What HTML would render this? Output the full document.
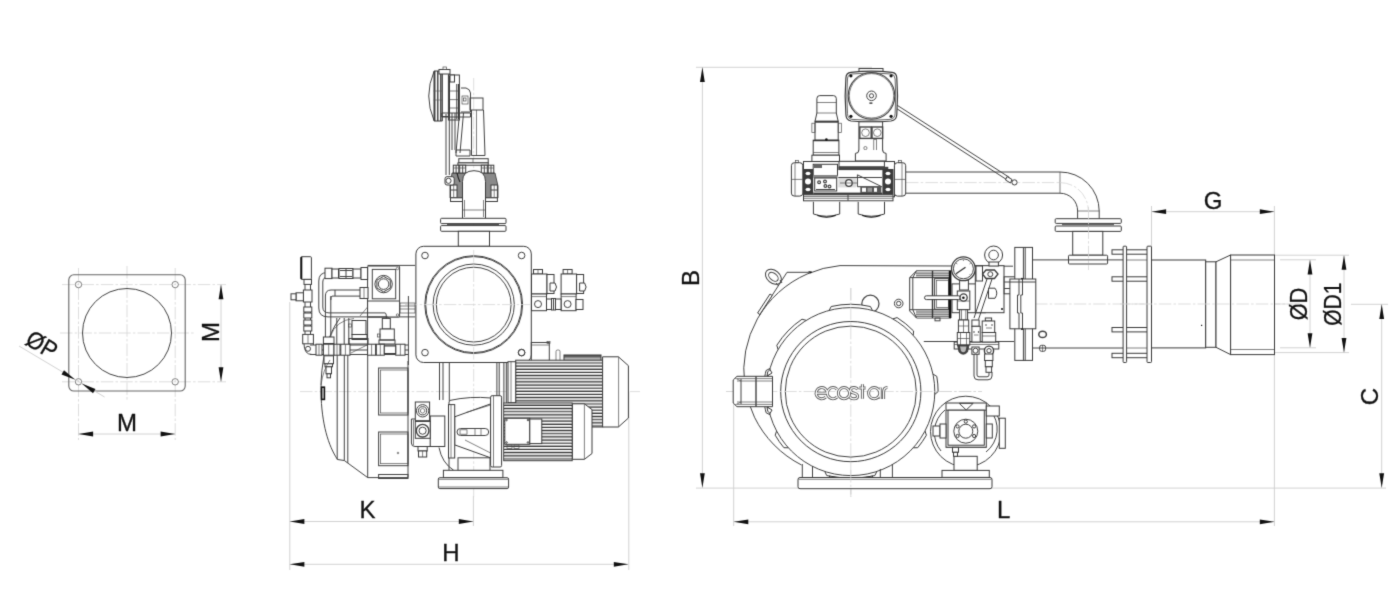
<!DOCTYPE html>
<html><head><meta charset="utf-8">
<style>
html,body{margin:0;padding:0;background:#fff;width:1400px;height:598px;overflow:hidden}
svg{display:block}
#wrap{filter:grayscale(1);width:1400px;height:598px}
.o{fill:none;stroke:#424242;stroke-width:1}
.t{fill:none;stroke:#4a4a4a;stroke-width:0.7}
.f{fill:#fff;stroke:#3a3a3a;stroke-width:1}
.ft{fill:#fff;stroke:#4a4a4a;stroke-width:0.7}
.fin{fill:none;stroke:#3a3a3a;stroke-width:1.15}
.c{fill:none;stroke:#d4d4d4;stroke-width:0.8;stroke-dasharray:12.5 2.2 2.5 2.2}
.d{fill:none;stroke:#d2d2d2;stroke-width:1}
.a{fill:#111;stroke:none}
text{font-family:"Liberation Sans",sans-serif;fill:#111}
.lbl{font-size:24px;stroke:#111;stroke-width:0.3}
</style></head>
<body><div id="wrap">
<svg width="1400" height="598" viewBox="0 0 1400 598">
<defs>
<filter id="soft" x="0" y="0" width="1400" height="598" filterUnits="userSpaceOnUse" color-interpolation-filters="sRGB"><feConvolveMatrix order="3" kernelMatrix="1 6 1 6 36 6 1 6 1" divisor="64" edgeMode="duplicate"/></filter>
<path id="ar" d="M0,0 L14.6,-2.4 L14.6,2.4 Z" class="a"/>
</defs>
<g filter="url(#soft)">
<rect x="0" y="0" width="1400" height="598" fill="#fff"/>
<!-- ============ LEFT FLANGE ============ -->
<g id="flange">
<line class="c" x1="127" y1="266" x2="127" y2="400"/>
<line class="c" x1="60" y1="333" x2="195" y2="333"/>
<line class="c" x1="78.5" y1="268" x2="78.5" y2="440"/>
<line class="c" x1="175.2" y1="268" x2="175.2" y2="440"/>
<line class="c" x1="62" y1="284.6" x2="226" y2="284.6"/>
<line class="c" x1="62" y1="381.8" x2="226" y2="381.8"/>
<rect x="68.8" y="274.8" width="116.4" height="116.2" rx="5" fill="none" stroke="#666" stroke-width="1.1"/>
<circle class="o" cx="127" cy="333" r="44.5"/>
<circle class="t" cx="78.5" cy="284.6" r="3.2"/>
<circle class="t" cx="175.2" cy="284.6" r="3.2"/>
<circle class="t" cx="78.5" cy="381.8" r="3.2"/>
<circle class="t" cx="175.2" cy="381.8" r="3.2"/>
<!-- M vertical dim -->
<line class="d" x1="221" y1="284.6" x2="221" y2="381.8"/>
<use href="#ar" transform="translate(221,284.6) rotate(90)"/>
<use href="#ar" transform="translate(221,381.8) rotate(-90)"/>
<text class="lbl" transform="translate(219,332) rotate(-90)" text-anchor="middle">M</text>
<!-- M horizontal dim -->
<line class="d" x1="78.5" y1="434" x2="175.2" y2="434"/>
<use href="#ar" transform="translate(78.5,434)"/>
<use href="#ar" transform="translate(175.2,434) rotate(180)"/>
<text class="lbl" transform="translate(127,431)" text-anchor="middle">M</text>
<!-- ØP -->
<line class="d" x1="19" y1="346" x2="104.6" y2="397"/>
<use href="#ar" transform="translate(75.3,379.8) rotate(210.8)"/>
<use href="#ar" transform="translate(81.7,383.6) rotate(30.8)"/>
<text class="lbl" transform="translate(24,343.5) rotate(30.8) scale(0.92,1)" text-anchor="start">ØP</text>
</g>

<!-- ============ MIDDLE DIMS ============ -->
<g id="middims">
<line class="d" x1="289.8" y1="302" x2="289.8" y2="570"/>
<line class="d" x1="628.8" y1="392" x2="628.8" y2="570"/>
<line class="d" x1="473.4" y1="496" x2="473.4" y2="526"/>
<line class="d" x1="289.8" y1="521.5" x2="473.4" y2="521.5"/>
<use href="#ar" transform="translate(289.8,521.5)"/>
<use href="#ar" transform="translate(473.4,521.5) rotate(180)"/>
<text class="lbl" transform="translate(367.4,518)" text-anchor="middle">K</text>
<line class="d" x1="289.8" y1="564.3" x2="628.4" y2="564.3"/>
<use href="#ar" transform="translate(289.8,564.3)"/>
<use href="#ar" transform="translate(628.4,564.3) rotate(180)"/>
<text class="lbl" transform="translate(451,561)" text-anchor="middle">H</text>
</g>

<!-- ============ RIGHT DIMS ============ -->
<g id="rightdims">
<line class="d" x1="702.4" y1="67.3" x2="702.4" y2="488"/>
<line class="d" x1="696" y1="67.3" x2="872" y2="67.3"/>
<use href="#ar" transform="translate(702.4,67.3) rotate(90)"/>
<use href="#ar" transform="translate(702.4,487.8) rotate(-90)"/>
<text class="lbl" transform="translate(698.7,278) rotate(-90)" text-anchor="middle">B</text>
<line class="d" x1="696" y1="488.1" x2="1386" y2="488.1"/>
<line class="d" x1="733.7" y1="380" x2="733.7" y2="526"/>
<line class="d" x1="1274.4" y1="355" x2="1274.4" y2="526"/>
<line class="d" x1="733.7" y1="521.8" x2="1274.4" y2="521.8"/>
<use href="#ar" transform="translate(733.7,521.8)"/>
<use href="#ar" transform="translate(1274.4,521.8) rotate(180)"/>
<text class="lbl" transform="translate(1003.7,518.4)" text-anchor="middle">L</text>
<!-- G -->
<line class="d" x1="1151.5" y1="206" x2="1151.5" y2="246"/>
<line class="d" x1="1274.4" y1="206" x2="1274.4" y2="255"/>
<line class="d" x1="1151.5" y1="211.7" x2="1274.4" y2="211.7"/>
<use href="#ar" transform="translate(1151.5,211.7)"/>
<use href="#ar" transform="translate(1274.4,211.7) rotate(180)"/>
<text class="lbl" transform="translate(1213,208.8)" text-anchor="middle">G</text>
<!-- ØD ØD1 -->
<line class="d" x1="1274.4" y1="255.2" x2="1349" y2="255.2"/>
<line class="d" x1="1274.4" y1="352.6" x2="1349" y2="352.6"/>
<line class="d" x1="1280" y1="259.8" x2="1316" y2="259.8"/>
<line class="d" x1="1280" y1="347.8" x2="1316" y2="347.8"/>
<line class="d" x1="1310" y1="259.8" x2="1310" y2="347.8"/>
<use href="#ar" transform="translate(1310,259.8) rotate(90)"/>
<use href="#ar" transform="translate(1310,347.8) rotate(-90)"/>
<text class="lbl" transform="translate(1306.9,304) rotate(-90) scale(0.91,1)" text-anchor="middle">ØD</text>
<line class="d" x1="1344" y1="255.2" x2="1344" y2="352.6"/>
<use href="#ar" transform="translate(1344,255.2) rotate(90)"/>
<use href="#ar" transform="translate(1344,352.6) rotate(-90)"/>
<text class="lbl" transform="translate(1340.6,304.2) rotate(-90) scale(0.875,1)" text-anchor="middle">ØD1</text>
<!-- C -->
<line class="d" x1="1351" y1="304.3" x2="1388" y2="304.3"/>
<line class="d" x1="1381.7" y1="304.3" x2="1381.7" y2="488"/>
<use href="#ar" transform="translate(1381.7,304.3) rotate(90)"/>
<use href="#ar" transform="translate(1381.7,487.8) rotate(-90)"/>
<text class="lbl" transform="translate(1377.6,396.5) rotate(-90)" text-anchor="middle">C</text>
</g>
<g id="mid">
<line class="c" x1="473.7" y1="78" x2="473.7" y2="497"/>
<line class="c" x1="300" y1="391.6" x2="640" y2="391.6"/>
<line class="c" x1="405" y1="304.6" x2="545" y2="304.6"/>
<path class="o" d="M434,71.5 Q423.5,96 434,120.5"/>
<path d="M434,71 L442.3,71 L442.3,121 L434,121 Z" fill="#fff" stroke="#333" stroke-width="1"/>
<path d="M434.8,71 L434.8,121 M437.8,71 L437.8,121 M440.8,71 L440.8,121" stroke="#333" stroke-width="1.3"/>
<path d="M433.5,91 L442.3,91 M433.5,100 L442.3,100" stroke="#555" stroke-width="0.6"/>
<rect class="f" x="442.3" y="69.5" width="6.7" height="47"/>
<rect class="f" x="439" y="69.5" width="11" height="4.5"/>
<rect class="t" x="443" y="67" width="3.5" height="2.5"/>
<rect class="f" x="448.4" y="75" width="11" height="45"/>
<path d="M449.5,76 L449.5,119 M456.8,84 L456.8,119 M458.5,84 L458.5,119" stroke="#333" stroke-width="1"/>
<path d="M448.4,91 L459.4,91 M448.4,99.6 L459.4,99.6 M448.4,108 L459.4,108" stroke="#444" stroke-width="0.7"/>
<rect class="f" x="450" y="75" width="4.5" height="7"/>
<path class="o" d="M461,88 L466,88 Q470,89 470.5,93 L470.5,112 L461,112"/>
<rect class="t" x="462" y="96" width="6" height="8"/><rect class="t" x="463.5" y="98" width="2.5" height="3"/>
<rect class="o" x="470" y="98" width="13" height="12"/>
<path class="o" d="M471.5,110 L471.5,155.5 L485,155.5 L483.5,110"/>
<line class="t" x1="476.5" y1="110" x2="476.5" y2="155"/>
<path class="o" d="M446,114 L446,175 M449.3,114 L449.3,175"/>
<path class="o" d="M452,113 L452,150 M455,113 L455,150"/>
<path class="o" d="M459.5,113 L456,153 M463.5,113 L460,153"/>
<path class="o" d="M441.8,113 L470.5,113 L470.5,117 L441.8,117 Z"/>
<path class="o" d="M456,150 L470,150 L470,156 L456,156 Z"/>
<rect class="f" x="458.8" y="158.7" width="29.4" height="4.2"/>
<line class="t" x1="473" y1="158.7" x2="473" y2="162.9"/>
<rect class="f" x="457.9" y="162.9" width="30.3" height="2.3"/>
<path d="M452,173 L495,173 L498,186 L498,198 L450,198 L450,186 Z" fill="#8a8a8a" stroke="#333" stroke-width="0.8"/>
<rect class="f" x="453.3" y="165.2" width="5.5" height="7.8"/>
<line class="o" x1="456.1" y1="165.2" x2="456.1" y2="173"/>
<line class="t" x1="453.3" y1="168" x2="458.8" y2="168"/>
<rect class="f" x="459.7" y="165.2" width="6.0" height="7.8"/>
<line class="o" x1="462.7" y1="165.2" x2="462.7" y2="173"/>
<line class="t" x1="459.7" y1="168" x2="465.7" y2="168"/>
<rect class="f" x="481.3" y="165.2" width="6.0" height="7.8"/>
<line class="o" x1="484.3" y1="165.2" x2="484.3" y2="173"/>
<line class="t" x1="481.3" y1="168" x2="487.3" y2="168"/>
<rect class="f" x="488.2" y="165.2" width="5.6" height="7.8"/>
<line class="o" x1="491.0" y1="165.2" x2="491.0" y2="173"/>
<line class="t" x1="488.2" y1="168" x2="493.8" y2="168"/>
<path d="M457,173 Q458,178 460,182" fill="none" stroke="#222" stroke-width="1.2"/>
<rect class="f" x="450.5" y="185" width="6.5" height="12.8"/><line class="o" x1="450.5" y1="190" x2="457" y2="190"/><line class="t" x1="453.7" y1="185" x2="453.7" y2="197.8"/>
<rect class="f" x="491" y="185" width="6.4" height="12.8"/><line class="o" x1="491" y1="190" x2="497.4" y2="190"/><line class="t" x1="494.2" y1="185" x2="494.2" y2="197.8"/>
<rect class="f" x="450.5" y="197.8" width="46.9" height="3.7"/>
<rect class="f" x="445" y="176.7" width="9.2" height="8.3" rx="2"/><circle class="o" cx="448.5" cy="180.8" r="2.6"/>
<path class="f" d="M462.5,218 L462.5,181.5 Q462.5,170.7 474,170.7 Q485.5,170.7 485.5,181.5 L485.5,218"/>
<line class="t" x1="464.5" y1="200" x2="464.5" y2="217"/><line class="t" x1="483.5" y1="200" x2="483.5" y2="217"/>
<line class="t" x1="462.5" y1="210" x2="485.5" y2="210"/>
<rect class="f" x="440.6" y="218.3" width="65.4" height="5.3" rx="1"/>
<rect class="f" x="440.6" y="225.6" width="65.4" height="5.7" rx="1"/>
<line class="o" x1="447" y1="224.6" x2="499" y2="224.6"/>
<rect class="f" x="458.3" y="231.3" width="31.2" height="15"/>
<rect class="f" x="415.9" y="246.3" width="115.4" height="116.2" rx="7.6"/>
<circle class="o" cx="425" cy="255.5" r="3.3"/>
<circle class="o" cx="521.6" cy="255.5" r="3.3"/>
<circle class="o" cx="425" cy="352.6" r="3.3"/>
<circle class="o" cx="521.6" cy="352.6" r="3.3"/>
<circle class="o" cx="473.7" cy="304.6" r="48.9"/>
<circle class="o" cx="473.7" cy="304.6" r="48"/>
<circle class="o" cx="473.7" cy="304.6" r="40.6"/>
<circle class="o" cx="473.7" cy="304.6" r="37.4"/>
<line class="c" x1="473.7" y1="250" x2="473.7" y2="360"/>
<line class="c" x1="405" y1="304.6" x2="545" y2="304.6"/>
<path class="o" d="M340,318 C327,335 320.5,362 321,392 C321.5,424 328.5,446 337.5,459.5 L344.3,460.5 L367.7,477.6 L408,477.6"/>
<path class="o" d="M337.2,350 L337.2,459.5 M344.3,350 L344.3,460.5 M347.8,350 L347.8,463 M367.7,350 L367.7,477.6"/>
<path class="o" d="M408,477.6 L408,361"/>
<rect class="o" x="378.6" y="368" width="29.4" height="47"/>
<rect class="t" x="380.5" y="370" width="27.5" height="43"/>
<rect class="o" x="378.6" y="432" width="29.4" height="33.7"/>
<rect class="t" x="380.5" y="434" width="27.5" height="29.7"/>
<rect class="o" x="378.6" y="474.5" width="29.4" height="4"/>
<rect class="a" x="320.8" y="386.4" width="4.4" height="13.8"/><rect x="322" y="388" width="2" height="10.6" fill="#999"/>
<circle class="t" cx="398" cy="453" r="0.8"/>
<path class="o" d="M325.4,296 L325.4,350 M330.8,296 L330.8,350 M336.8,318 L336.8,352 M344.2,318 L344.2,352 M348.8,318 L348.8,352 M367.6,296 L367.6,352 M408.4,296 L408.4,365"/>
<line class="o" x1="318" y1="350" x2="409" y2="350"/>
<path class="o" d="M367.6,265.4 L415,265.4 M367.6,316.9 L415,316.9"/>
<rect class="t" x="400" y="303" width="15" height="10"/>
<line class="t" x1="400" y1="306" x2="415" y2="306"/><line class="t" x1="400" y1="309" x2="415" y2="309"/>
<rect class="f" x="367.6" y="266" width="32" height="51" rx="1"/>
<rect class="o" x="372.3" y="269.4" width="23.4" height="29.4"/>
<circle class="o" cx="383.6" cy="284.1" r="8.7"/>
<polygon class="o" points="383.6,276.4 390.3,280.2 390.3,288 383.6,291.8 376.9,288 376.9,280.2"/>
<circle class="o" cx="383.6" cy="284.1" r="5.3"/>
<circle class="t" cx="397.5" cy="268.5" r="1.2"/><circle class="t" cx="397.5" cy="315" r="1.2"/>
<line class="o" x1="367.6" y1="301" x2="399.6" y2="301"/>
<path class="o" d="M364,272.6 L327,272.6 Q318.8,272.6 318.8,281 L318.8,308 Q318.8,316.9 328,316.9 L386,316.9 Q389.6,316.9 389.6,321 L389.6,330"/>
<path class="o" d="M364,277 L328,277 Q322.8,277 322.8,282 L322.8,307 Q322.8,312.9 329,312.9 L385,312.9 Q386.3,312.9 386.3,316 L386.3,330"/>
<rect class="f" x="325" y="268.2" width="7" height="10.4"/>
<rect class="f" x="332" y="269" width="6.5" height="9"/>
<rect class="f" x="339" y="268.5" width="14" height="10"/>
<rect class="f" x="353" y="269" width="8" height="9"/>
<rect class="f" x="361" y="267.5" width="6.6" height="12"/>
<line class="o" x1="346" y1="268.5" x2="346" y2="278.5"/><line class="o" x1="340" y1="270.5" x2="352" y2="270.5"/><line class="o" x1="340" y1="276.5" x2="352" y2="276.5"/>
<path class="o" d="M360,290 L331,290 Q325.4,290 325.4,296 M360,296.1 L332,296.1 Q330.8,296.1 330.8,300"/>
<rect class="f" x="360" y="287.5" width="8" height="11"/><line class="t" x1="364" y1="287.5" x2="364" y2="298.5"/>
<line class="o" x1="335" y1="290" x2="335" y2="296"/>
<path class="t" d="M367.6,307 L360,316"/>
<rect class="f" x="300.7" y="256.7" width="10.7" height="22.7" rx="1"/>
<rect class="a" x="300.7" y="257" width="1.6" height="22"/>
<rect class="f" x="304" y="279.4" width="7.5" height="5"/>
<rect class="f" x="303.4" y="290" width="8.6" height="12"/>
<rect class="f" x="296" y="292.8" width="7.4" height="8"/><rect class="f" x="291" y="293.8" width="5" height="6"/>
<line class="o" x1="305" y1="284.4" x2="305" y2="290"/><line class="o" x1="310.5" y1="284.4" x2="310.5" y2="290"/>
<line class="o" x1="305" y1="302" x2="305" y2="334"/><line class="o" x1="310.5" y1="302" x2="310.5" y2="334"/>
<rect class="f" x="303.8" y="307" width="8" height="5"/>
<rect class="f" x="303.8" y="313" width="8" height="5"/>
<rect class="f" x="303.8" y="320" width="8" height="5"/>
<rect class="f" x="303.8" y="326" width="8" height="5"/>
<rect class="f" x="302.7" y="334.4" width="10.7" height="9.4"/><line class="t" x1="308" y1="334.4" x2="308" y2="343.8"/>
<path class="o" d="M304,343.8 Q304,354.5 312,354.5 M313.4,343.8 L313.4,345"/>
<circle class="o" cx="308" cy="348.8" r="2.5"/>
<line class="o" x1="310" y1="345" x2="408" y2="345"/><line class="o" x1="310" y1="354.5" x2="408" y2="354.5"/>
<rect class="f" x="316" y="344.2" width="6" height="11"/>
<line class="t" x1="319.0" y1="344.2" x2="319.0" y2="355.2"/>
<rect class="f" x="323.4" y="344.2" width="10.600000000000023" height="11"/>
<line class="t" x1="328.7" y1="344.2" x2="328.7" y2="355.2"/>
<rect class="f" x="334" y="344.2" width="6" height="11"/>
<line class="t" x1="337.0" y1="344.2" x2="337.0" y2="355.2"/>
<rect class="f" x="340.8" y="344.2" width="9.199999999999989" height="11"/>
<line class="t" x1="345.4" y1="344.2" x2="345.4" y2="355.2"/>
<rect class="f" x="367.6" y="344.2" width="8.0" height="11"/>
<line class="t" x1="371.6" y1="344.2" x2="371.6" y2="355.2"/>
<rect class="f" x="376.3" y="344.2" width="8.0" height="11"/>
<line class="t" x1="380.3" y1="344.2" x2="380.3" y2="355.2"/>
<rect class="f" x="395.7" y="344.2" width="9.300000000000011" height="11"/>
<line class="t" x1="400.35" y1="344.2" x2="400.35" y2="355.2"/>
<rect class="f" x="384.3" y="346" width="11.4" height="7.5"/>
<path class="t" d="M351,353 L367,345"/>
<rect class="f" x="323.4" y="337" width="10.6" height="6.5"/>
<rect class="f" x="324" y="355.8" width="9.5" height="8"/>
<rect class="f" x="325" y="363.8" width="7.5" height="3"/>
<rect class="f" x="326" y="366.8" width="5.5" height="7"/>
<rect class="f" x="327" y="373.8" width="3.5" height="4"/>
<rect class="f" x="352" y="320.5" width="14" height="14"/>
<rect class="f" x="352" y="334.5" width="15" height="5"/>
<rect class="o" x="349" y="338.5" width="19" height="5.5"/>
<rect class="t" x="348.5" y="324" width="3" height="3"/>
<rect class="f" x="382.3" y="318.4" width="8" height="10.6"/>
<rect class="f" x="380" y="329" width="14.3" height="11"/>
<rect class="o" x="379" y="340" width="16" height="4"/>
<rect class="t" x="377.5" y="334" width="2.5" height="3"/>
<path class="t" d="M330,337 Q336,320 354,318.5"/>
<path class="t" d="M321,385 Q323,370 330,360"/>
<path class="o" d="M439.5,362.5 L439.5,400 M443,362.5 L443,400 M449.3,362.5 L449.3,402 M496.9,362.5 L496.9,396 M499.2,362.5 L499.2,396 M503.9,362.5 L503.9,403 M506.3,362.5 L506.3,403"/>
<rect class="o" x="531.3" y="342.5" width="18" height="19.2"/>
<line class="t" x1="531.3" y1="345" x2="549.3" y2="345"/>
<rect class="t" x="547" y="341.5" width="3" height="2"/>
<rect class="t" x="556" y="350" width="4" height="11.7" rx="1.5"/>
<circle class="o" cx="521.6" cy="352.6" r="3.3"/>
<rect x="564" y="355" width="37" height="6.7" fill="#8a8a8a" stroke="#333" stroke-width="1"/><line x1="564.5" y1="356" x2="600.5" y2="356" stroke="#333" stroke-width="1.2"/><line x1="564.5" y1="359" x2="600.5" y2="359" stroke="#eee" stroke-width="0.8"/>
<rect class="f" x="515.7" y="360.2" width="87" height="66.8"/>
<rect x="516" y="361.60" width="86.5" height="0.8" fill="#c4c4c4"/>
<line class="fin" x1="516" y1="363.00" x2="602.5" y2="363.00"/>
<rect x="516" y="364.75" width="86.5" height="0.8" fill="#c4c4c4"/>
<line class="fin" x1="516" y1="366.15" x2="602.5" y2="366.15"/>
<rect x="516" y="367.90" width="86.5" height="0.8" fill="#c4c4c4"/>
<line class="fin" x1="516" y1="369.30" x2="602.5" y2="369.30"/>
<rect x="516" y="371.05" width="86.5" height="0.8" fill="#c4c4c4"/>
<line class="fin" x1="516" y1="372.45" x2="602.5" y2="372.45"/>
<rect x="516" y="374.20" width="86.5" height="0.8" fill="#c4c4c4"/>
<line class="fin" x1="516" y1="375.60" x2="602.5" y2="375.60"/>
<rect x="516" y="377.35" width="86.5" height="0.8" fill="#c4c4c4"/>
<line class="fin" x1="516" y1="378.75" x2="602.5" y2="378.75"/>
<rect x="516" y="380.50" width="86.5" height="0.8" fill="#c4c4c4"/>
<line class="fin" x1="516" y1="381.90" x2="602.5" y2="381.90"/>
<rect x="516" y="383.65" width="86.5" height="0.8" fill="#c4c4c4"/>
<line class="fin" x1="516" y1="385.05" x2="602.5" y2="385.05"/>
<rect x="516" y="386.80" width="86.5" height="0.8" fill="#c4c4c4"/>
<line class="fin" x1="516" y1="388.20" x2="602.5" y2="388.20"/>
<rect x="516" y="389.95" width="86.5" height="0.8" fill="#c4c4c4"/>
<line class="fin" x1="516" y1="391.35" x2="602.5" y2="391.35"/>
<rect x="516" y="393.10" width="86.5" height="0.8" fill="#c4c4c4"/>
<line class="fin" x1="516" y1="394.50" x2="602.5" y2="394.50"/>
<rect x="516" y="396.25" width="86.5" height="0.8" fill="#c4c4c4"/>
<line class="fin" x1="516" y1="397.65" x2="602.5" y2="397.65"/>
<rect x="516" y="399.40" width="86.5" height="0.8" fill="#c4c4c4"/>
<line class="fin" x1="516" y1="400.80" x2="602.5" y2="400.80"/>
<rect x="516" y="402.55" width="86.5" height="0.8" fill="#c4c4c4"/>
<line class="fin" x1="516" y1="403.95" x2="602.5" y2="403.95"/>
<rect x="516" y="405.70" width="86.5" height="0.8" fill="#c4c4c4"/>
<line class="fin" x1="516" y1="407.10" x2="602.5" y2="407.10"/>
<rect x="516" y="408.85" width="86.5" height="0.8" fill="#c4c4c4"/>
<line class="fin" x1="516" y1="410.25" x2="602.5" y2="410.25"/>
<rect x="516" y="412.00" width="86.5" height="0.8" fill="#c4c4c4"/>
<line class="fin" x1="516" y1="413.40" x2="602.5" y2="413.40"/>
<rect x="516" y="415.15" width="86.5" height="0.8" fill="#c4c4c4"/>
<line class="fin" x1="516" y1="416.55" x2="602.5" y2="416.55"/>
<rect x="516" y="418.30" width="86.5" height="0.8" fill="#c4c4c4"/>
<line class="fin" x1="516" y1="419.70" x2="602.5" y2="419.70"/>
<rect x="516" y="421.45" width="86.5" height="0.8" fill="#c4c4c4"/>
<line class="fin" x1="516" y1="422.85" x2="602.5" y2="422.85"/>
<rect x="516" y="424.60" width="86.5" height="0.8" fill="#c4c4c4"/>
<line class="fin" x1="516" y1="426.00" x2="602.5" y2="426.00"/>
<rect class="f" x="508" y="361.7" width="7.7" height="41"/>
<line class="t" x1="511" y1="361.7" x2="511" y2="402.7"/>
<path class="f" d="M602.6,356.8 L618.4,356.8 L628.4,365.7 L628.4,418 L618.4,427 L602.6,427 Z"/>
<line class="t" x1="618.6" y1="356.8" x2="618.6" y2="427"/>
<rect class="f" x="503.7" y="403" width="68.5" height="57.7"/>
<rect x="504" y="404.00" width="68" height="0.8" fill="#c4c4c4"/>
<line class="fin" x1="504" y1="405.40" x2="572" y2="405.40"/>
<rect x="504" y="407.15" width="68" height="0.8" fill="#c4c4c4"/>
<line class="fin" x1="504" y1="408.55" x2="572" y2="408.55"/>
<rect x="504" y="410.30" width="68" height="0.8" fill="#c4c4c4"/>
<line class="fin" x1="504" y1="411.70" x2="572" y2="411.70"/>
<rect x="504" y="413.45" width="68" height="0.8" fill="#c4c4c4"/>
<line class="fin" x1="504" y1="414.85" x2="572" y2="414.85"/>
<rect x="504" y="416.60" width="68" height="0.8" fill="#c4c4c4"/>
<line class="fin" x1="504" y1="418.00" x2="572" y2="418.00"/>
<rect x="504" y="419.75" width="68" height="0.8" fill="#c4c4c4"/>
<line class="fin" x1="504" y1="421.15" x2="572" y2="421.15"/>
<rect x="504" y="422.90" width="68" height="0.8" fill="#c4c4c4"/>
<line class="fin" x1="504" y1="424.30" x2="572" y2="424.30"/>
<rect x="504" y="426.05" width="68" height="0.8" fill="#c4c4c4"/>
<line class="fin" x1="504" y1="427.45" x2="572" y2="427.45"/>
<rect x="504" y="429.20" width="68" height="0.8" fill="#c4c4c4"/>
<line class="fin" x1="504" y1="430.60" x2="572" y2="430.60"/>
<rect x="504" y="432.35" width="68" height="0.8" fill="#c4c4c4"/>
<line class="fin" x1="504" y1="433.75" x2="572" y2="433.75"/>
<rect x="504" y="435.50" width="68" height="0.8" fill="#c4c4c4"/>
<line class="fin" x1="504" y1="436.90" x2="572" y2="436.90"/>
<rect x="504" y="438.65" width="68" height="0.8" fill="#c4c4c4"/>
<line class="fin" x1="504" y1="440.05" x2="572" y2="440.05"/>
<rect x="504" y="441.80" width="68" height="0.8" fill="#c4c4c4"/>
<line class="fin" x1="504" y1="443.20" x2="572" y2="443.20"/>
<rect x="504" y="444.95" width="68" height="0.8" fill="#c4c4c4"/>
<line class="fin" x1="504" y1="446.35" x2="572" y2="446.35"/>
<rect x="504" y="448.10" width="68" height="0.8" fill="#c4c4c4"/>
<line class="fin" x1="504" y1="449.50" x2="572" y2="449.50"/>
<rect x="504" y="451.25" width="68" height="0.8" fill="#c4c4c4"/>
<line class="fin" x1="504" y1="452.65" x2="572" y2="452.65"/>
<rect x="504" y="454.40" width="68" height="0.8" fill="#c4c4c4"/>
<line class="fin" x1="504" y1="455.80" x2="572" y2="455.80"/>
<rect x="504" y="457.55" width="68" height="0.8" fill="#c4c4c4"/>
<line class="fin" x1="504" y1="458.95" x2="572" y2="458.95"/>
<rect class="f" x="504.8" y="418.3" width="25" height="26"/>
<rect class="f" x="529.8" y="419" width="12" height="24.6"/>
<circle class="o" cx="506.5" cy="420" r="0.8"/><circle class="o" cx="528" cy="420" r="0.8"/><circle class="o" cx="506.5" cy="442.5" r="0.8"/><circle class="o" cx="528" cy="442.5" r="0.8"/>
<rect class="t" x="507" y="445" width="5" height="3.5"/><rect class="t" x="514" y="445" width="5" height="3.5"/>
<path class="f" d="M572.4,403.8 L584.4,403.8 L592,409.6 L592,453.5 L584.4,459.3 L572.4,459.3 Z"/>
<line class="t" x1="584.4" y1="403.8" x2="584.4" y2="459.3"/>
<path class="o" d="M450,400.4 Q470,396 491,398"/>
<path class="o" d="M449,402 L449,470"/>
<path class="f" d="M454.7,416.8 L490.6,403.9 L490.6,457.8 L454.7,444.9 Z"/>
<path class="t" d="M465,440 L490.6,453 M466,412.5 L490.6,405"/>
<rect class="f" x="448.5" y="404.6" width="6.2" height="53.4"/>
<line class="t" x1="451" y1="405" x2="451" y2="457.8"/>
<rect class="f" x="490.6" y="395.7" width="11" height="71.3" rx="1.5"/>
<line class="t" x1="493.5" y1="396" x2="493.5" y2="467"/>
<rect class="o" x="457" y="428.5" width="31.7" height="7" rx="3.5"/>
<rect class="t" x="460" y="429.8" width="7" height="4.4"/>
<line class="t" x1="475" y1="428.5" x2="475" y2="435.5"/><line class="t" x1="481" y1="428.5" x2="481" y2="435.5"/>
<path class="o" d="M439,447.5 Q442,463 453.7,470.3"/>
<rect class="o" x="458" y="457.8" width="32" height="12.8"/>
<rect class="f" x="443.4" y="470.3" width="59.5" height="7.4"/>
<rect class="f" x="438.3" y="477.7" width="70.3" height="10.9" rx="1.5"/>
<line class="t" x1="438.5" y1="479.3" x2="508.4" y2="479.3"/><line class="t" x1="438.5" y1="487" x2="508.4" y2="487"/>
<path class="f" d="M411.4,419 L430.8,419 L430.8,446.5 L415,446.5 Q411.4,446.5 411.4,443 Z"/>
<line class="t" x1="413.5" y1="420" x2="413.5" y2="445"/>
<rect class="f" x="430.2" y="416" width="14.6" height="30.5"/>
<rect class="f" x="415.3" y="402" width="14.3" height="18.8"/>
<circle class="o" cx="422.6" cy="410.8" r="6.2"/><circle class="o" cx="422.6" cy="410.8" r="4.1"/><polygon class="t" points="422.6,408.4 424.7,409.6 424.7,412 422.6,413.2 420.5,412 420.5,409.6"/>
<rect class="f" x="415.3" y="421.3" width="14.9" height="17"/>
<circle class="o" cx="422.6" cy="430.7" r="6.3" style="stroke-width:1.4"/><circle class="o" cx="422.6" cy="430.7" r="3.6"/>
<line class="o" x1="415.3" y1="421.3" x2="430.2" y2="421.3" style="stroke-width:1.3"/>
<rect class="f" x="418" y="446.5" width="9.2" height="4.5"/><rect class="f" x="418.5" y="451" width="8.2" height="6"/>
<line class="t" x1="422.6" y1="451" x2="422.6" y2="457"/>
</g>
<g id="sol">
<g transform="translate(0,0)">
<rect class="f" x="533.5" y="269.5" width="9" height="4.5"/><line class="t" x1="538" y1="269.5" x2="538" y2="274"/>
<rect class="f" x="531.5" y="274" width="15.5" height="20"/>
<rect class="f" x="547" y="274.5" width="7" height="19"/>
<path class="f" d="M550,283 L555,283 Q558,287 555,291 L550,291 Z"/>
<rect class="f" x="531.5" y="294" width="15" height="16.7"/>
<line class="t" x1="531.5" y1="296.6" x2="546.5" y2="296.6"/>
<circle class="o" cx="538" cy="304.1" r="3.5"/>
</g>
<g transform="translate(29.6,0)">
<rect class="f" x="533.5" y="269.5" width="9" height="4.5"/><line class="t" x1="538" y1="269.5" x2="538" y2="274"/>
<rect class="f" x="531.5" y="274" width="15.5" height="20"/>
<rect class="f" x="547" y="274.5" width="7" height="19"/>
<path class="f" d="M550,283 L555,283 Q558,287 555,291 L550,291 Z"/>
<rect class="f" x="531.5" y="294" width="15" height="16.7"/>
<line class="t" x1="531.5" y1="296.6" x2="546.5" y2="296.6"/>
<circle class="o" cx="538" cy="304.1" r="3.5"/>
</g>
<rect class="f" x="546.5" y="299" width="5" height="10.5"/><rect class="f" x="551.5" y="298.5" width="4" height="11.5"/><rect class="f" x="555.5" y="299" width="5.5" height="10.5"/>
<line class="o" x1="553.5" y1="298.5" x2="553.5" y2="310"/>
<rect class="f" x="576" y="299.5" width="7" height="10"/>
</g>

<g id="right">
<line class="c" x1="850.8" y1="288" x2="850.8" y2="497"/>
<line class="c" x1="726" y1="391.5" x2="982" y2="391.5"/>
<line class="c" x1="1035" y1="304" x2="1300" y2="304"/>
<line class="c" x1="906" y1="182.6" x2="1060" y2="182.6"/>
<path class="o" d="M905.9,172 L1060,172 A39,39 0 0 1 1099.2,211 L1099.2,218.7"/>
<path class="o" d="M905.9,193.2 L1060,193.2 A17.6,17.6 0 0 1 1077.6,211 L1077.6,218.7"/>
<line class="t" x1="1060" y1="172" x2="1060" y2="193.2"/>
<line class="t" x1="1077.6" y1="211" x2="1099.2" y2="211"/>
<path class="c" d="M1060,182.6 A28.3,28.3 0 0 1 1088.3,211"/>
<rect class="f" x="1055.2" y="218.7" width="66.1" height="4.7" rx="1"/>
<rect class="f" x="1055.2" y="226" width="66.1" height="5.4" rx="1"/>
<line class="o" x1="1062" y1="224.7" x2="1114" y2="224.7"/>
<rect class="f" x="1072.7" y="231.4" width="30.1" height="23.8"/>
<rect class="f" x="1068.5" y="255.2" width="39.1" height="8.8" rx="1"/>
<line class="c" x1="1088.5" y1="207" x2="1088.5" y2="270"/>
<path class="o" d="M896,104.5 L1009.5,177.5 M895,107.5 L1008,180.5"/>
<path class="f" d="M1007,176.5 L1012,179.5 L1010.5,183 L1005.5,180 Z"/>
<circle class="f" cx="1014.5" cy="182.4" r="2.6"/>
<rect class="f" x="859" y="68.5" width="24" height="3.2"/>
<path class="f" d="M851,72.3 Q871.5,69.8 892,72.3 Q896.6,72.8 896.8,78 Q898.3,96 896.8,114.5 Q896.6,120.3 891,121 Q871.5,123 851,121 Q846,120.3 845.9,114.5 Q844.4,96 845.9,78 Q846,72.8 851,72.3 Z" style="stroke-width:1.2"/>
<path class="o" d="M852,74 Q871.5,71.6 891,74 Q895,74.5 895.1,79 Q896.4,96 895.1,113.5 Q895,118.8 890,119.4 Q871.5,121.2 852,119.4 Q847.6,118.8 847.5,113.5 Q846.2,96 847.5,79 Q847.6,74.5 852,74 Z" style="stroke-width:0.8"/>
<circle class="o" cx="871.5" cy="95.8" r="23.3" style="stroke-width:1.1"/>
<circle class="t" cx="871.5" cy="95.8" r="22.2"/>
<circle class="o" cx="871.5" cy="95.8" r="4.8"/><circle class="o" cx="871.5" cy="95.8" r="2.1"/>
<rect class="a" x="869.4" y="102.5" width="3" height="1.2"/>
<circle class="a" cx="850.9" cy="75.8" r="1.6"/>
<circle class="a" cx="891.1" cy="75.8" r="1.6"/>
<circle class="a" cx="850.9" cy="116.3" r="1.6"/>
<circle class="a" cx="891.1" cy="116.3" r="1.6"/>
<rect class="f" x="858.9" y="121.8" width="23.7" height="32"/>
<rect class="o" x="859.8" y="127" width="11.4" height="11.4" style="stroke-width:1.4"/>
<rect class="o" x="872" y="127" width="10.6" height="11.4" style="stroke-width:1.4"/>
<circle class="t" cx="865.5" cy="132.7" r="3.8"/><circle class="t" cx="877.3" cy="132.7" r="3.8"/>
<rect class="t" x="873.8" y="139.3" width="2.6" height="11.5"/>
<circle class="t" cx="865.4" cy="148.1" r="1.6"/><circle class="t" cx="871.2" cy="151.6" r="1.2"/>
<path class="f" d="M858.9,150 Q858.9,153.4 855.4,153.4 L855.4,161 L886.1,161 L886.1,153.4 Q882.6,153.4 882.6,150"/>
<path class="f" d="M815,121.3 L816.9,113 L816.9,98.5 Q816.9,95.6 819.8,95.6 L833.4,95.6 Q836.3,95.6 836.3,98.5 L836.3,113 L838.2,121.3 Z"/>
<line class="t" x1="817" y1="102.5" x2="836.2" y2="102.5"/><line class="t" x1="816.9" y1="113" x2="836.3" y2="113"/>
<rect class="f" x="815" y="121.3" width="23.2" height="18.9"/>
<line x1="815" y1="122" x2="838.2" y2="122" stroke="#333" stroke-width="1.4"/>
<rect class="t" x="811.9" y="123.2" width="3.1" height="9.4"/><rect class="t" x="838.2" y="123.2" width="3.1" height="9.4"/>
<rect class="f" x="813.2" y="140.2" width="25.7" height="15"/>
<line x1="813.2" y1="140.6" x2="838.9" y2="140.6" stroke="#333" stroke-width="1.3"/>
<line class="t" x1="813.2" y1="152.5" x2="838.9" y2="152.5"/>
<rect class="f" x="811.9" y="155.2" width="27.6" height="6.3"/>
<circle class="a" cx="826.4" cy="139.6" r="1.3"/>
<rect class="f" x="803.5" y="161.5" width="91" height="35.3"/>
<rect class="f" x="839" y="161.3" width="45.4" height="5.5"/>
<rect x="838.3" y="166.8" width="50" height="3.3" fill="#444"/>
<rect x="803" y="169" width="10.2" height="25.8" fill="#3a3a3a"/>
<rect x="882.4" y="169" width="11.1" height="25.8" fill="#3a3a3a"/>
<ellipse fill="#fff" cx="808" cy="173.5" rx="2.5" ry="1.8"/>
<ellipse fill="#fff" cx="808" cy="181.5" rx="3" ry="3"/>
<ellipse fill="#fff" cx="808" cy="189.5" rx="2.5" ry="1.8"/>
<ellipse fill="#fff" cx="888" cy="173.5" rx="2.5" ry="1.8"/>
<ellipse fill="#fff" cx="888" cy="181.5" rx="3" ry="3"/>
<ellipse fill="#fff" cx="888" cy="189.5" rx="2.5" ry="1.8"/>
<rect x="813.2" y="192.6" width="69.2" height="2.2" fill="#3a3a3a"/>
<rect class="f" x="813.2" y="164.3" width="24.3" height="11.4"/>
<rect x="813.2" y="175" width="24.3" height="3" fill="#888"/>
<rect class="f" x="814.7" y="178" width="22" height="13"/>
<circle class="o" cx="819.1" cy="182.3" r="1.4" style="stroke-width:1.2"/>
<circle class="o" cx="825" cy="181.5" r="1.4" style="stroke-width:1.2"/>
<circle class="o" cx="825.4" cy="186" r="1.4" style="stroke-width:1.2"/>
<circle class="o" cx="829.5" cy="186.5" r="1.4" style="stroke-width:1.2"/>
<line class="o" x1="816" y1="189.5" x2="835" y2="189.5"/>
<rect x="814" y="165" width="8" height="3" fill="#666"/>
<rect x="838.3" y="178" width="17.7" height="9.4" fill="#ddd"/>
<circle class="f" cx="848.9" cy="183" r="3.3" style="stroke-width:1.3"/><line class="t" x1="840" y1="183" x2="857" y2="183"/>
<path class="o" d="M857.4,174.8 L881.7,186.7 M857.4,174.8 L857.4,186.7 L881.7,186.7"/>
<path class="o" d="M838.3,177.5 L882,177.5"/>
<rect x="860.3" y="186.5" width="21" height="6.5" fill="#555"/>
<rect x="862" y="187.8" width="4" height="4" fill="#fff"/><rect x="874" y="187.8" width="3" height="4" fill="#fff"/><rect x="867.5" y="187.8" width="4.5" height="4" fill="#999"/>
<rect class="f" x="791.4" y="162.7" width="11.4" height="33.4" rx="3"/>
<line class="t" x1="795" y1="163" x2="795" y2="196"/><line class="t" x1="791.4" y1="179.4" x2="802.8" y2="179.4"/>
<rect class="f" x="894.4" y="162.7" width="11.3" height="33.4" rx="3"/>
<line class="t" x1="902" y1="163" x2="902" y2="196"/><line class="t" x1="894.4" y1="179.4" x2="905.7" y2="179.4"/>
<rect class="t" x="795.5" y="160.5" width="3" height="2.2"/><rect class="t" x="898.5" y="160.5" width="3" height="2.2"/>
<rect class="f" x="803.5" y="194.8" width="89.5" height="6"/>
<line class="t" x1="803.5" y1="196.5" x2="893" y2="196.5"/><line class="t" x1="803.5" y1="198.3" x2="893" y2="198.3"/>
<line class="o" x1="848" y1="194.8" x2="848" y2="200.8"/>
<path class="f" d="M813.4,201.8 L813.4,214 Q826.4,218.5 839.6999999999999,214 L839.6999999999999,201.8"/>
<path class="a" d="M817.4,214.8 Q826.4,218.6 835.6999999999999,214.8 L835.6999999999999,216 Q826.4,219.6 817.4,216 Z"/>
<path class="f" d="M858.2,201.8 L858.2,214 Q871.2,218.5 884.5,214 L884.5,201.8"/>
<path class="a" d="M862.2,214.8 Q871.2,218.6 880.5,214.8 L880.5,216 Q871.2,219.6 862.2,216 Z"/>
<path class="o" d="M801.5,465 A105.65,105.65 0 0 1 840,265.6 L1013,266.2"/>
<path class="o" d="M811,272.3 L787,272.3 L759.5,315"/>
<path class="a" d="M808,271.2 L812,271.6 L811,273.4 Z"/>
<ellipse class="f" cx="773.4" cy="276.8" rx="9" ry="6.3" transform="rotate(40 773.4 276.8)"/>
<ellipse class="o" cx="773.4" cy="276.8" rx="5.5" ry="3.5" transform="rotate(40 773.4 276.8)"/>
<path class="o" d="M776,283 L778.5,286 M780,280 L782,283"/>
<path class="f" d="M757.6,313 L770,294 L772.2,295.5 L759.8,314.5 Z"/>
<circle class="o" cx="870.4" cy="303.8" r="8.6" style="stroke-width:1.2"/>
<circle class="o" cx="898.7" cy="303.5" r="4.3"/><circle class="o" cx="898.7" cy="303.5" r="2.2"/>
<path class="f" d="M778.1,349.6 L776.8,345.3 A87.3,87.3 0 0 1 802.0,319.2 L806.3,320.4"/>
<path class="f" d="M829.1,310.5 L831.2,306.5 A87.3,87.3 0 0 1 870.4,306.5 L872.5,310.5"/>
<path class="f" d="M892.8,318.9 L897.1,317.6 A87.3,87.3 0 0 1 913.6,331.0 L913.2,335.4"/>
<path class="f" d="M933.0,374.1 L936.8,376.4 A87.3,87.3 0 0 1 938.1,391.6 L934.7,394.5"/>
<path class="f" d="M925.0,431.0 L926.4,435.2 A87.3,87.3 0 0 1 917.7,447.7 L913.2,447.8"/>
<path class="f" d="M876.8,471.5 L874.9,475.5 A87.3,87.3 0 0 1 826.7,475.5 L824.8,471.5"/>
<path class="f" d="M788.4,447.8 L783.9,447.7 A87.3,87.3 0 0 1 775.2,435.2 L776.6,431.0"/>
<path class="f" d="M770.1,414.8 L766.1,412.7 A87.3,87.3 0 0 1 764.8,406.8 L767.6,403.3"/>
<path class="f" d="M767.6,379.9 L764.8,376.4 A87.3,87.3 0 0 1 766.1,370.5 L770.1,368.4"/>
<circle fill="#fff" cx="850.8" cy="391.6" r="84"/>
<circle class="o" cx="850.8" cy="391.6" r="84"/>
<circle class="f" cx="850.8" cy="391.6" r="70.1"/>
<circle class="o" cx="850.8" cy="391.6" r="65.5"/>
<line class="c" x1="850.8" y1="288" x2="850.8" y2="497"/>
<line class="c" x1="726" y1="391.5" x2="982" y2="391.5"/>
<path d="M816.1,393.2 L827.3,393.2 A5.6,5.6 0 1 0 825.66,397.16 M836.96,389.24 A5.6,5.6 0 1 0 836.96,397.16 M838.4,393.2 A5.6,5.6 0 1 0 849.6,393.2 A5.6,5.6 0 1 0 838.4,393.2 M857.6,389.6 Q856.6,387.6 854,387.6 Q850.6,387.6 850.6,390.2 Q850.6,392.4 854,393.1 Q857.6,393.9 857.6,396.3 Q857.6,398.8 854,398.8 Q850.6,398.8 849.9,396.6 M862.4,384.2 L862.4,398.8 M859.2,388 L865.6,388 M868.6,393.2 A5.6,5.6 0 1 0 879.8,393.2 A5.6,5.6 0 1 0 868.6,393.2 M880.2,387.6 L880.2,399 M883.6,399 L883.6,392.2 Q883.6,387.6 887.4,387.6" fill="none" stroke="#5a5a5a" stroke-width="3"/>
<path d="M816.1,393.2 L827.3,393.2 A5.6,5.6 0 1 0 825.66,397.16 M836.96,389.24 A5.6,5.6 0 1 0 836.96,397.16 M838.4,393.2 A5.6,5.6 0 1 0 849.6,393.2 A5.6,5.6 0 1 0 838.4,393.2 M857.6,389.6 Q856.6,387.6 854,387.6 Q850.6,387.6 850.6,390.2 Q850.6,392.4 854,393.1 Q857.6,393.9 857.6,396.3 Q857.6,398.8 854,398.8 Q850.6,398.8 849.9,396.6 M862.4,384.2 L862.4,398.8 M859.2,388 L865.6,388 M868.6,393.2 A5.6,5.6 0 1 0 879.8,393.2 A5.6,5.6 0 1 0 868.6,393.2 M880.2,387.6 L880.2,399 M883.6,399 L883.6,392.2 Q883.6,387.6 887.4,387.6" fill="none" stroke="#fff" stroke-width="1.2"/>
<path class="f" d="M772.5,376.3 L737,376.3 L733.2,380 L733.2,403 L737,406.7 L772.5,406.7 Z"/>
<line class="o" x1="741" y1="379" x2="741" y2="404"/>
<line class="o" x1="756" y1="376.3" x2="756" y2="406.7" style="stroke-width:1.4"/>
<path class="t" d="M737,378.6 L772.5,378.6 M737,381 L772.5,381 M737,402 L772.5,402 M737,404.4 L772.5,404.4"/>
<path class="t" d="M735,378 L741,381 M735,405 L741,402"/>
<path class="f" d="M767,376 Q767,371 770,369.5 L772,373 Z"/>
<path class="f" d="M767,407 Q767,412 770,413.5 L772,410 Z"/>
<path class="o" d="M802.3,464 L802.3,477.6 M812.5,466 L812.5,477.6 M880.3,469 L880.3,477.6 M892.4,464 L892.4,477.6"/>
<path class="f" d="M829,476 Q851,480 873,476 L871,478 L831,478 Z"/>
<rect class="f" x="798" y="477.5" width="194" height="11.2" rx="2"/>
<line class="t" x1="798.5" y1="479.3" x2="991.5" y2="479.3"/>
<line class="c" x1="850.8" y1="470" x2="850.8" y2="497"/>
<line class="o" x1="923.8" y1="341.5" x2="1014" y2="341.5"/>
<path class="f" d="M916.5,270.8 L951,270.8 L951,318 L916.5,318 L909.7,311 L909.7,277.6 Z"/>
<rect x="916" y="271.2" width="34.5" height="6.4" fill="#cfcfcf"/><rect x="916" y="309.7" width="34.5" height="8" fill="#cfcfcf"/>
<path class="t" d="M916,273.2 L951,273.2 M916,275.4 L951,275.4 M916,312 L951,312 M916,314.3 L951,314.3 M916,316.4 L951,316.4"/>
<path class="o" d="M909.7,277.6 L950,277.6 M909.7,309.7 L950,309.7 M912.8,277.6 L912.8,309.7"/>
<path class="o" d="M916.5,270.8 L912.8,277.6 M916.5,318 L912.8,309.7"/>
<path d="M932.5,270.8 L932.5,318" stroke="#333" stroke-width="1.4"/>
<rect class="o" x="934.6" y="278.6" width="14" height="30.6"/>
<rect class="t" x="936.3" y="280.3" width="12.3" height="27.2"/>
<rect class="a" x="948.8" y="270.8" width="2.2" height="47.2"/>
<rect class="o" x="935" y="318" width="5" height="2.8"/>
<rect class="f" x="952" y="283.9" width="33.3" height="28.8"/>
<rect class="f" x="975.3" y="265.7" width="28.7" height="47"/>
<rect class="f" x="1004.2" y="276.8" width="11.3" height="17"/>
<line class="o" x1="1004.2" y1="282" x2="1015.5" y2="282"/><line class="o" x1="1004.2" y1="288.5" x2="1015.5" y2="288.5"/>
<rect class="f" x="976" y="266" width="6.5" height="15"/>
<circle class="a" cx="1002" cy="309" r="1"/>
<rect class="f" x="959.6" y="280" width="8.8" height="10"/>
<circle class="f" cx="963.4" cy="268.8" r="11.9" style="stroke-width:1.3"/>
<circle class="o" cx="963.4" cy="268.8" r="10"/>
<path d="M956,273.8 L965.5,267.3" stroke="#333" stroke-width="1.3" fill="none"/>
<path class="t" d="M963.4,259.5 L963.4,261 M956,263 L957.3,264 M970.8,263 L969.5,264 M956,275.5 L957.3,274.5 M970.8,275.5 L969.5,274.5"/>
<rect class="f" x="954.2" y="342" width="44.6" height="7"/>
<line class="t" x1="954.2" y1="344.5" x2="998.8" y2="344.5"/>
<rect class="f" x="957.3" y="291" width="12.5" height="18.7"/>
<line class="t" x1="957.3" y1="301" x2="969.8" y2="301"/>
<rect class="f" x="959.6" y="309.7" width="8" height="10.3"/>
<line class="t" x1="961.5" y1="309.7" x2="961.5" y2="320"/><line class="t" x1="965.8" y1="309.7" x2="965.8" y2="320"/>
<rect class="f" x="958.4" y="320" width="10.3" height="12.5"/>
<line class="t" x1="958.4" y1="326" x2="968.7" y2="326"/><line class="t" x1="963.5" y1="320" x2="963.5" y2="332.5"/>
<rect class="f" x="957.3" y="332.5" width="12.5" height="12.5"/>
<line class="t" x1="957.3" y1="338.5" x2="969.8" y2="338.5"/><line class="t" x1="960.5" y1="332.5" x2="960.5" y2="345"/><line class="t" x1="966.5" y1="332.5" x2="966.5" y2="345"/>
<path d="M957.5,345 L969,345 L967.5,352 Q963.3,356.5 959,352 Z" fill="#444" stroke="#333" stroke-width="0.8"/>
<path d="M960,346.5 L966.5,346.5 L965.5,351 Q963.3,353.5 961,351 Z" fill="#bbb"/>
<rect class="f" x="924.5" y="295.8" width="36" height="3.8" rx="1.9"/>
<circle class="f" cx="963.6" cy="297.5" r="3.6" style="stroke-width:1.3"/><circle class="a" cx="963.4" cy="297.7" r="1.3"/>
<path class="o" d="M988,276 L974,318 M992.5,277.5 L978.5,319.5"/>
<polygon class="f" points="986,270 994.5,270 998,274 994.5,278.5 986,278.5 982.5,274" style="stroke-width:1.3"/>
<circle class="o" cx="990.3" cy="274.2" r="2.5"/>
<path class="f" d="M988.5,288.2 L995,288.2 Q998.6,293 995,298.3 L988.5,298.3 Z"/>
<circle class="f" cx="993.6" cy="255" r="9" /><circle class="o" cx="993.6" cy="255" r="4.8"/>
<rect class="f" x="989" y="262" width="9.4" height="4"/>
<rect class="f" x="971.9" y="320" width="7.2" height="6.3"/>
<rect class="f" x="971.9" y="326.3" width="8.3" height="15.7"/>
<circle class="a" cx="974" cy="332" r="0.7"/><circle class="a" cx="978.5" cy="332" r="0.7"/><line class="t" x1="974" y1="335" x2="978.5" y2="335"/>
<rect class="f" x="985.3" y="318" width="6.3" height="3"/>
<rect class="f" x="982.2" y="321" width="12.5" height="11.5"/>
<circle class="a" cx="986" cy="325" r="0.7"/><circle class="a" cx="992" cy="325" r="0.7"/><line class="t" x1="986" y1="328" x2="992" y2="328"/>
<rect class="f" x="982.2" y="332.5" width="13.5" height="9.5"/><line class="t" x1="982.2" y1="336" x2="995.7" y2="336"/>
<rect class="f" x="971.9" y="347" width="7.2" height="7.3"/><circle class="o" cx="975.5" cy="350.7" r="2.5"/>
<circle class="f" cx="989" cy="350.7" r="4.6" style="stroke-width:1.4"/><circle class="o" cx="989" cy="350.7" r="2.2"/>
<path class="o" d="M974,354.2 L974,376 Q974,379.8 978,379.8 L988,379.8 Q992,379.8 992,376 L992,372"/>
<path class="o" d="M977,354.2 L977,375 Q977,376.8 979,376.8 L987,376.8 Q989,376.8 989,375 L989,372"/>
<rect class="f" x="984.6" y="354" width="8.3" height="6.5"/><rect class="f" x="985.3" y="360.5" width="7" height="6.3"/><rect class="f" x="986" y="366.8" width="5.6" height="5.5"/>
<rect class="f" x="1014.8" y="247.4" width="17.7" height="113"/>
<line class="o" x1="1023.4" y1="247.4" x2="1023.4" y2="360.4"/><line class="o" x1="1025.2" y1="247.4" x2="1025.2" y2="360.4"/>
<rect class="f" x="1009.9" y="279" width="25.9" height="49.8"/>
<path class="o" d="M1019,279 L1019,295 L1017.5,295 L1017.5,313 L1019,313 L1019,328.8 M1022.5,279 L1022.5,295 L1020.8,295 L1020.8,313 L1022.5,313 L1022.5,328.8"/>
<line class="o" x1="1009.9" y1="282" x2="1035.8" y2="282"/>
<circle class="a" cx="1022" cy="278.6" r="0.9"/><circle class="a" cx="1022" cy="329.2" r="0.9"/>
<ellipse class="o" cx="1042.6" cy="334.4" rx="3.8" ry="3.2" style="stroke-width:1.5"/>
<rect class="o" x="1039.6" y="345.3" width="6" height="6" rx="2"/><line class="t" x1="1042.6" y1="345.3" x2="1042.6" y2="351.3"/>
<line class="o" x1="1032.5" y1="259.9" x2="1123.5" y2="259.9"/>
<line class="o" x1="1032.5" y1="348" x2="1123.5" y2="348"/>
<rect class="f" x="1112" y="249.8" width="39.5" height="4.4"/>
<rect class="f" x="1112" y="276.8" width="39.5" height="4.4"/>
<rect class="f" x="1112" y="327.5" width="39.5" height="4.4"/>
<rect class="f" x="1112" y="353.3" width="39.5" height="4.4"/>
<rect class="f" x="1123.1" y="246.2" width="3.5" height="116.3" rx="0.8"/>
<rect class="f" x="1147" y="246.2" width="4.5" height="116.3" rx="0.8"/>
<line class="t" x1="1126.6" y1="260" x2="1147" y2="260"/><line class="t" x1="1126.6" y1="348" x2="1147" y2="348"/>
<rect class="f" x="1151.5" y="260" width="54.2" height="87.9"/>
<rect class="a" x="1201" y="324.8" width="1.2" height="1.2"/>
<rect class="f" x="1205.7" y="261.8" width="10.3" height="85.5"/>
<path class="f" d="M1216,261.8 L1230.6,255 L1230.6,354.6 L1216,347.3 Z"/>
<rect class="f" x="1230.6" y="255" width="43.9" height="99.6"/>
<line class="t" x1="1230.6" y1="260" x2="1274.5" y2="260"/><line class="t" x1="1230.6" y1="349.5" x2="1274.5" y2="349.5"/>
<line class="c" x1="1120" y1="304" x2="1300" y2="304"/>
<circle class="o" cx="965.8" cy="431.5" r="35.3"/>
<path class="o" d="M941,451 A29,29 0 0 1 945,410 M990,410 A29,29 0 0 1 986,452"/>
<rect class="f" x="954" y="456.3" width="23.2" height="14.1"/>
<rect class="f" x="942" y="470.4" width="47.3" height="7"/>
<rect class="f" x="946" y="403" width="40.3" height="44.3"/>
<line class="o" x1="946" y1="410.2" x2="986.3" y2="410.2"/>
<polygon class="o" points="959.2,403.3 973.2,403.3 966.2,410"/>
<rect class="f" x="948" y="410.2" width="36.3" height="35"/>
<circle class="o" cx="965.8" cy="431.2" r="12"/><circle class="o" cx="965.8" cy="431.2" r="7"/>
<circle class="f" cx="965.8" cy="421.6" r="1.6"/>
<circle class="f" cx="974.1" cy="426.4" r="1.6"/>
<circle class="f" cx="974.1" cy="436.0" r="1.6"/>
<circle class="f" cx="957.5" cy="436.0" r="1.6"/>
<circle class="f" cx="957.5" cy="426.4" r="1.6"/>
<rect class="f" x="986.3" y="406" width="13" height="10"/>
<rect class="f" x="999.3" y="418.2" width="6" height="30.1"/>
<rect class="f" x="933" y="426" width="7" height="10"/><rect class="f" x="940" y="424" width="6" height="14"/>
<rect class="f" x="986.3" y="424" width="6" height="14"/>
<rect class="f" x="952.5" y="447.3" width="6" height="5"/><rect class="f" x="953.5" y="452.3" width="4" height="4"/>
<line class="t" x1="946" y1="447.3" x2="986.3" y2="447.3"/>
</g>

</g>
</svg></div>
</body></html>
